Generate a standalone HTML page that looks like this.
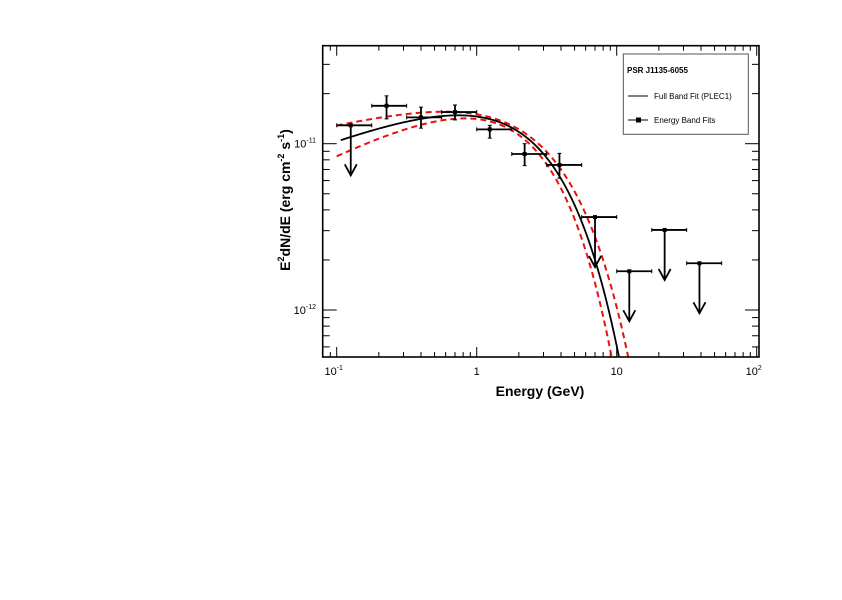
<!DOCTYPE html>
<html><head><meta charset="utf-8"><style>
html,body{margin:0;padding:0;background:#fff;}
svg text{font-family:"Liberation Sans",sans-serif;}
</style></head><body>
<svg id="chart" width="842" height="595" viewBox="0 0 842 595" xmlns="http://www.w3.org/2000/svg">
<rect x="0" y="0" width="842" height="595" fill="#fff"/>
<g id="ticks"></g>
<g id="curves"></g>
<g id="points"></g>
<rect x="322.7" y="45.7" width="436.3" height="311.3" fill="none" stroke="#000" stroke-width="1.6"/>
<text x="540" y="396" font-size="14" font-weight="bold" text-anchor="middle">Energy (GeV)</text>
<text transform="translate(290,200) rotate(-90)" font-size="14" font-weight="bold" text-anchor="middle">E<tspan font-size="9" dy="-6">2</tspan><tspan dy="6">dN/dE (erg cm</tspan><tspan font-size="9" dy="-6">-2</tspan><tspan dy="6"> s</tspan><tspan font-size="9" dy="-6">-1</tspan><tspan dy="6">)</tspan></text>
<g>
<rect x="623.3" y="54" width="125" height="80.3" fill="#fff" stroke="#555" stroke-width="1"/>
<text x="627" y="73" font-size="8" font-weight="bold">PSR J1135-6055</text>
<line x1="628" y1="96" x2="648" y2="96" stroke="#000" stroke-width="1"/>
<text x="654" y="99" font-size="8">Full Band Fit (PLEC1)</text>
<line x1="628" y1="120" x2="648" y2="120" stroke="#000" stroke-width="1"/>
<rect x="636" y="117.5" width="5" height="5" fill="#000"/>
<text x="654" y="123" font-size="8">Energy Band Fits</text>
</g>
</svg>
<script>
const eCenter=[0.126,0.227,0.40,0.70,1.24,2.2,3.9,7.0,12.3,22.0,39.0];
const eLow=[0.1,0.178,0.316,0.562,1.0,1.78,3.16,5.62,10,17.8,31.6];
const eHigh=[0.178,0.316,0.562,1.0,1.78,3.16,5.62,10,17.8,31.6,56.2];
const flux=[1.29e-11,1.69e-11,1.44e-11,1.55e-11,1.22e-11,8.67e-12,7.45e-12,3.62e-12,1.71e-12,3.03e-12,1.91e-12];
const fluxLo=[0,1.41e-11,1.24e-11,1.39e-11,1.08e-11,7.38e-12,6.2e-12,0,0,0,0];
const fluxHi=[0,1.94e-11,1.66e-11,1.71e-11,1.29e-11,1.0e-11,8.75e-12,0,0,0,0];
const isUL=[1,0,0,0,0,0,0,1,1,1,1];
const fitBest=[2.25e-11,0.32,2.3];
const fitUpper=[2.13e-11,0.204,2.865];
const fitLower=[2.36e-11,0.426,1.934];
const xTickLabels=["-1","","","2"];
const yTickExps=[-11,-12];

const NS="http://www.w3.org/2000/svg";
const L=322.7,R=759,T=45.7,B=357;
const X=e=>336.7+(Math.log10(e)+1)*140;
const Y=f=>143.7-(Math.log10(f)+11)*166.3;
function mk(tag,attrs,parent){const el=document.createElementNS(NS,tag);for(const k in attrs)el.setAttribute(k,attrs[k]);parent.appendChild(el);return el;}
const ticks=document.getElementById('ticks');
for(let d=-2;d<=2;d++){for(let m=1;m<10;m++){const e=m*Math.pow(10,d);const x=X(e);if(x<L+0.5||x>R-0.5)continue;const len=m===1?10:5;
mk('line',{x1:x,y1:B,x2:x,y2:B-len,stroke:'#000','stroke-width':1},ticks);
mk('line',{x1:x,y1:T,x2:x,y2:T+len,stroke:'#000','stroke-width':1},ticks);}}
const xl=[[0.1,"10","-1"],[1,"1",""],[10,"10",""],[100,"10","2"]];
xl.forEach((t,i)=>{const tx=mk('text',{x:X(t[0])-(t[2]?3:0),y:375,'font-size':11,'text-anchor':'middle'},ticks);


tx.textContent=t[1];if(t[2]){const s=mk('tspan',{'font-size':7,dy:-5},tx);s.textContent=xTickLabels[i]||t[2];}});
for(let d=-13;d<=-10;d++){for(let m=1;m<10;m++){const f=m*Math.pow(10,d);const y=Y(f);if(y<T+0.5||y>B-0.5)continue;const len=m===1?14:7;
mk('line',{x1:L,y1:y,x2:L+len,y2:y,stroke:'#000','stroke-width':1},ticks);
mk('line',{x1:R,y1:y,x2:R-len,y2:y,stroke:'#000','stroke-width':1},ticks);}}
yTickExps.forEach(p=>{const tx=mk('text',{x:316,y:Y(Math.pow(10,p))+4,'font-size':11,'text-anchor':'end'},ticks);


const a=mk('tspan',{},tx);a.textContent="10";const s=mk('tspan',{'font-size':7,dy:-5},tx);s.textContent=String(p);});
const curves=document.getElementById('curves');
const cp=mk('clipPath',{id:'clip'},curves);
mk('rect',{x:L,y:T,width:R-L,height:B-T},cp);
function curve(p,e0,e1){let d="";for(let i=0;i<=300;i++){const e=e0*Math.pow(e1/e0,i/300);const f=p[0]*Math.pow(e,p[1])*Math.exp(-e/p[2]);let y=Y(f);if(y>B+20)y=B+20;d+=(i?"L":"M")+X(e).toFixed(2)+","+y.toFixed(2);}return d;}
const cu=mk('path',{d:curve(fitUpper,0.1,20),fill:'none',stroke:'#e8120c','stroke-width':2,'stroke-dasharray':'6,4','clip-path':'url(#clip)'},curves);


const cl=mk('path',{d:curve(fitLower,0.1,20),fill:'none',stroke:'#e8120c','stroke-width':2,'stroke-dasharray':'6,4','clip-path':'url(#clip)'},curves);


const cb=mk('path',{d:curve(fitBest,0.107,20),fill:'none',stroke:'#000','stroke-width':1.8,'clip-path':'url(#clip)'},curves);


const pts=document.getElementById('points');
for(let i=0;i<eCenter.length;i++){
const g=mk('g',{stroke:'#000','stroke-width':1.8,fill:'none'},pts);


const x=X(eCenter[i]),y=Y(flux[i]);
mk('line',{x1:X(eLow[i]),y1:y,x2:X(eHigh[i]),y2:y},g);
mk('line',{x1:X(eLow[i]),y1:y-2,x2:X(eLow[i]),y2:y+2,'stroke-width':1},g);
mk('line',{x1:X(eHigh[i]),y1:y-2,x2:X(eHigh[i]),y2:y+2,'stroke-width':1},g);
if(isUL[i]){mk('line',{x1:x,y1:y,x2:x,y2:y+50},g);
mk('polyline',{points:(x-6)+","+(y+39)+" "+x+","+(y+50)+" "+(x+6)+","+(y+39)},g);}
else{mk('line',{x1:x,y1:Y(fluxHi[i]),x2:x,y2:Y(fluxLo[i])},g);
mk('line',{x1:x-2,y1:Y(fluxHi[i]),x2:x+2,y2:Y(fluxHi[i]),'stroke-width':1},g);
mk('line',{x1:x-2,y1:Y(fluxLo[i]),x2:x+2,y2:Y(fluxLo[i]),'stroke-width':1},g);}
mk('rect',{x:x-2,y:y-2,width:4,height:4,fill:'#000',stroke:'none'},g);}
</script>
</body></html>
